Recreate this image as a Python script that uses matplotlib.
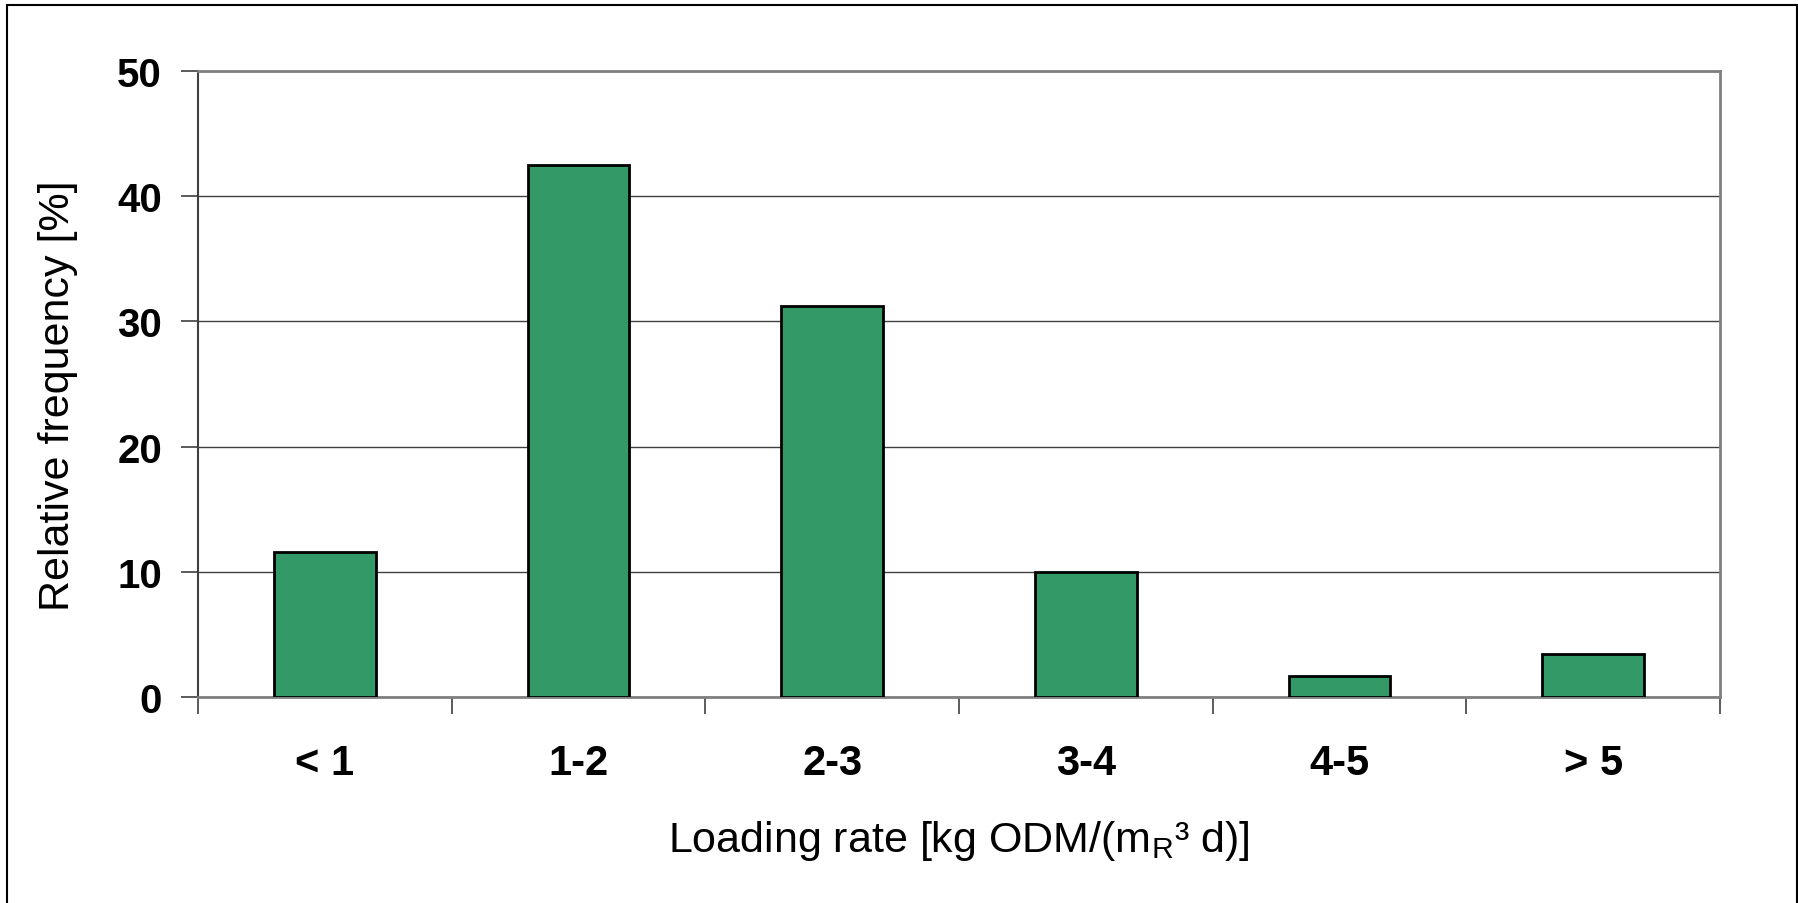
import numpy as np
import matplotlib as mpl
from matplotlib import pyplot as plt
from matplotlib.patches import Rectangle

mpl.rcParams['font.family'] = ['Liberation Sans', 'DejaVu Sans']
mpl.rcParams['mathtext.fontset'] = 'custom'
mpl.rcParams['mathtext.rm'] = 'Liberation Sans'

categories = ["< 1", "1-2", "2-3", "3-4", "4-5", "> 5"]
rel_freq = [11.6, 42.5, 31.2, 10.0, 1.7, 3.4]
yticks = [0, 10, 20, 30, 40, 50]

bar_color = "#339966"

fig = plt.figure(figsize=(17.99, 9.04), dpi=100)
ax = fig.add_axes([0.1101, 0.2279, 0.8460, 0.6925])

x = np.arange(len(categories))
ax.bar(x, rel_freq, width=0.40, color=bar_color, edgecolor="black", linewidth=2, zorder=3)

ax.set_xlim(-0.5, len(categories) - 0.5)
ax.set_ylim(0, 50)
ax.set_yticks(yticks)
ax.yaxis.grid(True, color="#404040", linewidth=1.0, zorder=0)
ax.set_axisbelow(True)

# labels sit under the bars, tick marks sit between categories
ax.set_xticks(x)
ax.set_xticklabels(categories, fontsize=30, fontweight="bold")
ax.set_xticks(np.arange(-0.5, len(categories)), minor=True)
ax.tick_params(axis="x", which="major", length=0, pad=33)
ax.tick_params(axis="x", which="minor", length=12, width=1.2, color="#404040", direction="out")
ax.tick_params(axis="y", length=12, width=1.2, color="#404040", direction="out", pad=14, labelsize=29)
for lab in ax.get_yticklabels():
    lab.set_fontweight("bold")

for side in ["top", "right", "bottom"]:
    ax.spines[side].set_color("#808080")
    ax.spines[side].set_linewidth(2)
ax.spines["left"].set_color("#404040")
ax.spines["left"].set_linewidth(1.5)

ax.set_ylabel("Relative frequency [%]", fontsize=31)
ax.yaxis.set_label_coords(-0.079, 0.483)
ax.set_xlabel(r"Loading rate [kg ODM/(m$_\mathrm{R}$³ d)]", fontsize=31, labelpad=25)

# outer chart-area frame (open at the bottom)
fig.patches.append(Rectangle((7 / 1799, -0.05), 1790 / 1799, 1.05 - 6 / 904,
                             transform=fig.transFigure, fill=False,
                             edgecolor="black", linewidth=1.5))

fig.savefig("out.png", dpi=100)
